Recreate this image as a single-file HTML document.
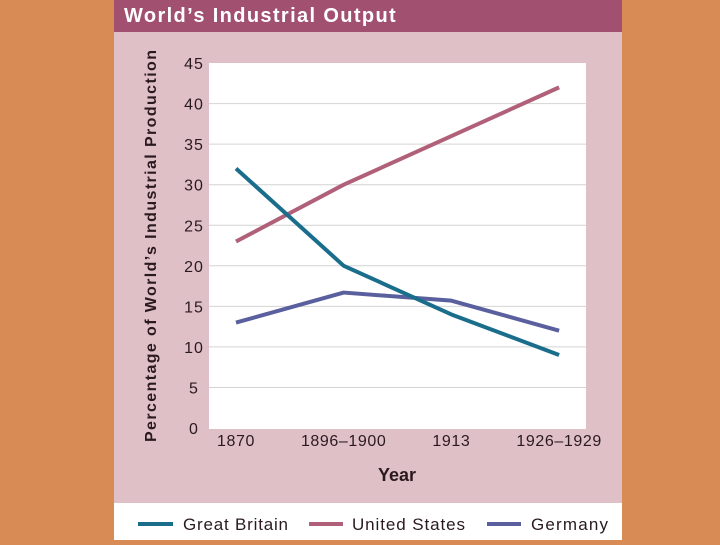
<!DOCTYPE html>
<html><head><meta charset="utf-8"><style>
body{margin:0;width:720px;height:540px;background:#d98b56;overflow:hidden;font-family:"Liberation Sans",sans-serif}
</style></head><body>
<svg width="720" height="540">
<rect x="114" y="0" width="508" height="540" fill="#dfc0c7"/>
<rect x="114" y="0" width="508" height="32" fill="#a2506f"/>
<text x="124" y="22" fill="#fff" font-size="20" font-weight="bold" letter-spacing="0.3" textLength="272">World’s Industrial Output</text>
<rect x="114" y="503" width="508" height="37" fill="#fff"/>
<rect x="209" y="63" width="377" height="366" fill="#fff"/>
<g id="grid"></g><g id="lines"></g>
<text transform="translate(156,246) rotate(-90)" text-anchor="middle" font-size="16" font-weight="bold" fill="#2a1a20" textLength="392">Percentage of World’s Industrial Production</text>
<text x="397" y="481" text-anchor="middle" font-size="18" font-weight="bold" fill="#2a1a20">Year</text>
<g>
<line x1="138" y1="524" x2="173" y2="524" stroke="#1a6e8c" stroke-width="4"/>
<text x="183" y="530" font-size="17" fill="#2a1a20" textLength="105">Great Britain</text>
<line x1="309" y1="524" x2="343" y2="524" stroke="#b06079" stroke-width="4"/>
<text x="352" y="530" font-size="17" fill="#2a1a20" textLength="113">United States</text>
<line x1="487" y1="524" x2="521" y2="524" stroke="#5a5f9e" stroke-width="4"/>
<text x="531" y="530" font-size="17" fill="#2a1a20" textLength="77">Germany</text>
</g>
</svg>
<script>
const categories=["1870","1896–1900","1913","1926–1929"];
const yTicks=[0,5,10,15,20,25,30,35,40,45];
const gb=[32,20,14,9];
const us=[23,30,36,42];
const de=[13,16.7,15.7,12];
const NS="http://www.w3.org/2000/svg";
const xs=i=>236+i*107.7;
const ys=v=>428-v*8.11;
const grid=document.getElementById('grid'),lines=document.getElementById('lines');
function mk(t,a,p){const e=document.createElementNS(NS,t);for(const k in a)e.setAttribute(k,a[k]);p.appendChild(e);return e;}
yTicks.forEach(v=>{
 if(v>0&&v<45){const l=mk('line',{x1:209,x2:586,y1:ys(v),y2:ys(v),stroke:'#d4d4d4','stroke-width':1},grid);
 
 }
 const t=mk('text',{x:194,y:ys(v)+6,'text-anchor':'middle','font-size':16,'letter-spacing':1,fill:'#2a1a20'},grid);t.textContent=v;
 
 
});
categories.forEach((c,i)=>{const t=mk('text',{x:xs(i),y:446,'text-anchor':'middle','font-size':16,'letter-spacing':0.6,fill:'#2a1a20'},grid);t.textContent=c;
 
 });
[[us,'#b06079','line-united-states'],[de,'#5a5f9e','line-germany'],[gb,'#1a6e8c','line-great-britain']].forEach(([d,c,n])=>{
 const p=mk('polyline',{points:d.map((v,i)=>xs(i)+','+ys(v)).join(' '),fill:'none',stroke:c,'stroke-width':4,'stroke-linejoin':'round'},lines);
 
 
});
</script>
</body></html>
